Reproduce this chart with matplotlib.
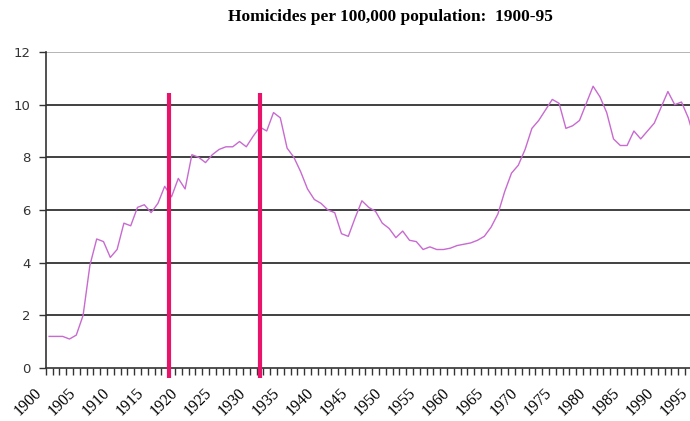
import numpy as np
import matplotlib.pyplot as plt
import matplotlib.transforms as mtransforms

# homicide rate per 100,000
years = np.arange(1900, 1996)
rate = [1.2, 1.2, 1.2, 1.1, 1.25, 2.0, 3.9, 4.9, 4.8, 4.2,
        4.5, 5.5, 5.4, 6.1, 6.2, 5.9, 6.25, 6.9, 6.5, 7.2,
        6.8, 8.1, 8.0, 7.8, 8.1, 8.3, 8.4, 8.4, 8.6, 8.4,
        8.8, 9.15, 9.0, 9.7, 9.5, 8.35, 8.0, 7.45, 6.8, 6.4,
        6.25, 6.0, 5.9, 5.1, 5.0, 5.7, 6.35, 6.1, 5.95, 5.5,
        5.3, 4.95, 5.2, 4.85, 4.8, 4.5, 4.6, 4.5, 4.5, 4.55,
        4.65, 4.7, 4.75, 4.85, 5.0, 5.35, 5.85, 6.7, 7.4, 7.7,
        8.3, 9.1, 9.4, 9.8, 10.2, 10.05, 9.1, 9.2, 9.4, 10.05,
        10.7, 10.3, 9.7, 8.7, 8.45, 8.45, 9.0, 8.7, 9.0, 9.3,
        9.9, 10.5, 10.0, 10.1, 9.5, 8.6]

# the two marker lines drawn on the chart (in year units)
marker_years = [1917.7, 1931.0]
marker_span = (-0.38, 10.44)

title = "Homicides per 100,000 population:  1900-95"
label_years = np.arange(1900, 1996, 5)
y_ticks = [0, 2, 4, 6, 8, 10, 12]

fig = plt.figure(figsize=(6.9, 4.21), dpi=100)
ax = fig.add_axes([45.7 / 690, 53 / 421, 652.8 / 690, 316 / 421])

# grid lines
for v in y_ticks[1:-1]:
    ax.axhline(v, color="#404040", lw=1.4, zorder=1)
ax.axhline(12, color="#b4b4b4", lw=1.4, zorder=1)

ax.plot(years, rate, color="#c86ad0", lw=1.0, zorder=3)

for mx in marker_years:
    ax.plot([mx, mx], marker_span, color="#e8146c", lw=3.0,
            solid_capstyle="butt", clip_on=False, zorder=4)

ax.set_xlim(1899.5, 1995.5)
ax.set_ylim(0, 12)

for s in ["top", "right"]:
    ax.spines[s].set_visible(False)
ax.spines["left"].set_color("#333333")
ax.spines["bottom"].set_color("#333333")
ax.spines["left"].set_linewidth(1.2)
ax.spines["bottom"].set_linewidth(1.2)

ax.set_yticks(y_ticks)
ax.set_yticklabels([str(v) for v in y_ticks], fontsize=9.5,
                   family="DejaVu Sans", color="#333333")
ax.tick_params(axis="y", length=5, width=1, color="#333333", pad=6)

# tick marks between years, labels every 5 years
ax.set_xticks(np.arange(1899.5, 1996, 1), minor=True)
ax.set_xticks(label_years)
ax.set_xticklabels([str(y) for y in label_years], fontsize=11.5,
                   family="Liberation Serif", rotation=45,
                   ha="right", va="top", rotation_mode="anchor")
ax.tick_params(axis="x", which="minor", length=5, width=1, color="#333333")
ax.tick_params(axis="x", which="major", length=0, pad=0)
offset = mtransforms.ScaledTranslation(-15 / 100, -17 / 100, fig.dpi_scale_trans)
for lab in ax.get_xticklabels():
    lab.set_transform(lab.get_transform() + offset)

fig.text(390 / 690, 1 - 17 / 421, title, ha="center", va="center",
         fontsize=12.5, fontweight="bold", family="Liberation Serif")

fig.savefig("out.png", dpi=100)
